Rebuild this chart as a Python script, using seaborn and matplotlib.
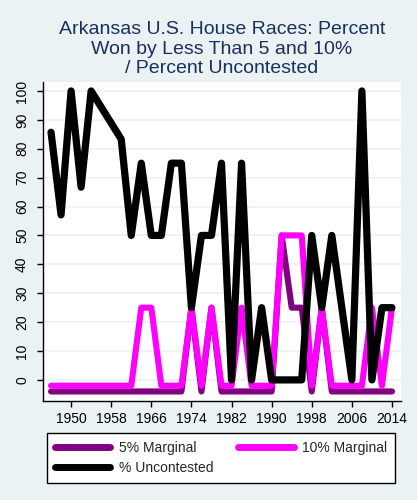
import numpy as np
import pandas as pd
import matplotlib
matplotlib.use("Agg")
import matplotlib.pyplot as plt
import seaborn as sns

years = list(range(1946, 2016, 2))
# values as drawn (zero values are displayed slightly below 0 in the reference)
marg5 = [-4, -4, -4, -4, -4, -4, -4, -4, -4, -4, -4, -4, -4, -4,
         25, -4, 25, -4, -4, -4, -4, -4, -4,
         50, 25, 25, -4, 25, -4, -4, -4, -4, -4, -4, -4]
marg10 = [-2, -2, -2, -2, -2, -2, -2, -2, -2, 25, 25, -2, -2, -2,
          25, -2, 25, -2, -2, 25, -2, -2, -2,
          50, 50, 50, -2, 25, -2, -2, -2, -2, 25, -2, 25]
uncontested = [85.7, 57.1, 100, 66.7, 100, np.nan, np.nan, 83.3, 50, 75, 50, 50, 75, 75,
               25, 50, 50, 75, 0, 75, 0, 25, 0,
               0, 0, 0, 50, 25, 50, 25, 0, 100, 0, 25, 25]
series_names = ["5% Marginal", "10% Marginal", "% Uncontested"]
xticks = list(range(1950, 2015, 8))
yticks = list(range(0, 101, 10))
title = "Arkansas U.S. House Races: Percent\nWon by Less Than 5 and 10%\n/ Percent Uncontested"

df = pd.concat([
    pd.DataFrame({"year": years, "value": marg5, "series": series_names[0]}),
    pd.DataFrame({"year": years, "value": marg10, "series": series_names[1]}),
    pd.DataFrame({"year": years, "value": uncontested, "series": series_names[2]}),
]).dropna()

sns.set_theme(style="white")
plt.rcParams["font.family"] = ["Liberation Sans", "DejaVu Sans"]

BG = "#EAF2F3"
fig = plt.figure(figsize=(4.17, 5.0), dpi=100, facecolor=BG)
ax = fig.add_axes([43/417, 1-401/500, (401-43)/417, (401-81.7)/500])
ax.set_facecolor("white")

palette = {series_names[0]: "#800080", series_names[1]: "#FF00FF", series_names[2]: "#000000"}
sns.lineplot(data=df, x="year", y="value", hue="series", hue_order=series_names,
             palette=palette, ax=ax, linewidth=4.4, legend=False,
             solid_capstyle="round", solid_joinstyle="round", sort=True)
# thicker black line
lines = ax.get_lines()
lines[2].set_linewidth(5.2)

ax.set_xlim(1944.4, 2015.8)
ax.set_ylim(-7.3, 103.2)
ax.set_xticks(xticks)
ax.set_yticks(yticks)
ax.set_xlabel("")
ax.set_ylabel("")
ax.grid(axis="y", color=BG, linewidth=1.2)
ax.grid(axis="x", visible=False)
ax.set_axisbelow(True)
for s in ["top", "right"]:
    ax.spines[s].set_visible(False)
for s in ["left", "bottom"]:
    ax.spines[s].set_color("black")
    ax.spines[s].set_linewidth(1.0)
ax.tick_params(axis="both", direction="out", length=4, width=1, color="black",
               labelsize=10, labelcolor="black", left=True, bottom=True)
ax.tick_params(axis="y", labelrotation=90, pad=6)
ax.tick_params(axis="x", pad=4)
for lab in ax.get_yticklabels():
    lab.set_va("center")

fig.text(222/417, 1-21/500, title, ha="center", va="top", fontsize=14,
         color="#1a2f5e", linespacing=1.2)

from matplotlib.lines import Line2D
h = {n: Line2D([], [], color=palette[n], linewidth=5.0, solid_capstyle="round") for n in series_names}
order = [series_names[0], series_names[2], series_names[1]]
leg = fig.legend([h[n] for n in order], order, ncol=2, loc="upper left",
                 bbox_to_anchor=(47/417, 1-433/500),
                 frameon=True, fancybox=False, edgecolor="black",
                 facecolor="white", framealpha=1, fontsize=10, handlelength=4.0,
                 borderpad=0.55, labelspacing=0.45, handletextpad=0.6,
                 columnspacing=1.8, borderaxespad=0)
leg.get_frame().set_linewidth(1.0)

fig.savefig("out.png", dpi=100, facecolor=BG)
